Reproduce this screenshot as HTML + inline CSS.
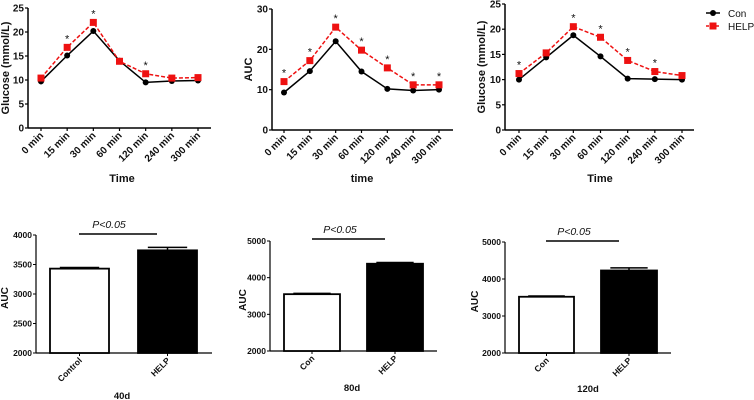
<!DOCTYPE html>
<html><head><meta charset="utf-8"><style>
html,body{margin:0;padding:0;background:#fff;width:754px;height:400px;overflow:hidden}
svg text{font-family:"Liberation Sans",Arial,sans-serif;fill:#111}
</style></head><body>
<svg id="fig" width="754" height="400" xmlns="http://www.w3.org/2000/svg"></svg>
<script>
const timeCats = ["0 min","15 min","30 min","60 min","120 min","240 min","300 min"];
const conA = [9.7,15.1,20.2,14,9.5,9.8,9.9];
const helpA = [10.4,16.8,22,13.9,11.3,10.4,10.5];
const starsA = [false,true,true,false,true,false,false];
const conB = [9.3,14.6,22,14.5,10.2,9.8,10];
const helpB = [12,17.2,25.5,19.8,15.4,11.2,11.2];
const starsB = [true,true,true,true,true,true,true];
const conC = [10,14.4,18.8,14.6,10.2,10.1,10];
const helpC = [11.2,15.3,20.5,18.4,13.8,11.6,10.8];
const starsC = [true,false,true,true,true,true,false];
const ticksA = [0,5,10,15,20,25];
const ticksB = [0,10,20,30];
const bar40Cats = ["Control","HELP"];
const bar40Vals = [3430,3740];
const bar40Errs = [20,50];
const bar40Ticks = [2000,2500,3000,3500,4000];
const bar80Cats = ["Con","HELP"];
const bar80Vals = [3550,4380];
const bar80Errs = [20,35];
const bar80Ticks = [2000,3000,4000,5000];
const bar120Cats = ["Con","HELP"];
const bar120Vals = [3520,4230];
const bar120Errs = [20,70];
const bar120Ticks = [2000,3000,4000,5000];

const NS="http://www.w3.org/2000/svg";
const svg=document.getElementById('fig');
function mk(tag,attrs,parent,txt){const e=document.createElementNS(NS,tag);for(const k in attrs)e.setAttribute(k,attrs[k]);if(txt!==undefined)e.textContent=txt;(parent||svg).appendChild(e);return e;}

function lineChart(name,ax,x0,x1,y0,yTop,ymax,ticks,cats,con,help,stars,ylabel,ylx,xlabel,xlx){
  const g=mk('g',{});
  
  
  const ys=v=>y0-(v/ymax)*(y0-yTop);
  const step=(x1-ax-26)/(cats.length-1)*1;
  const xs=i=>x0+i*step;
  const axes=mk('g',{},g);
  
  
  mk('line',{x1:ax,y1:yTop,x2:ax,y2:y0,stroke:'#000','stroke-width':1.5},axes);
  mk('line',{x1:ax,y1:y0,x2:x1,y2:y0,stroke:'#000','stroke-width':1.5},axes);
  ticks.forEach(t=>{const y=ys(t);
    mk('line',{x1:ax-3,y1:y,x2:ax,y2:y,stroke:'#000','stroke-width':1.2},axes);
    const tl=mk('text',{x:ax-4,y:y+3.5,'text-anchor':'end','font-size':10,'font-weight':'bold'},axes,t);
    
    
  });
  cats.forEach((c,i)=>{const x=xs(i);
    mk('line',{x1:x,y1:y0,x2:x,y2:y0+3,stroke:'#000','stroke-width':1.2},axes);
    const tl=mk('text',{x:0,y:0,'text-anchor':'end','font-size':10,'font-weight':'bold',transform:`translate(${x+3},${y0+8}) rotate(-45)`},axes,c);
    
    
  });
  const yl=mk('text',{x:0,y:0,'text-anchor':'middle','font-size':11,'font-weight':'bold',transform:`translate(${ylx},${(y0+yTop)/2}) rotate(-90)`},g,ylabel);
  
  
  const xl=mk('text',{x:xlx,y:182,'text-anchor':'middle','font-size':11,'font-weight':'bold'},g,xlabel);
  
  
  const pc=con.map((v,i)=>xs(i)+','+ys(v)).join(' ');
  const ph=help.map((v,i)=>xs(i)+','+ys(v)).join(' ');
  const lc=mk('polyline',{points:pc,fill:'none',stroke:'#000','stroke-width':1.5},g);
  
  
  const lh=mk('polyline',{points:ph,fill:'none',stroke:'#e11','stroke-width':1.5,'stroke-dasharray':'4,2'},g);
  
  
  con.forEach((v,i)=>{const c=mk('circle',{cx:xs(i),cy:ys(v),r:3,fill:'#000'},g);
    
    });
  help.forEach((v,i)=>{const r=mk('rect',{x:xs(i)-3.5,y:ys(v)-3.5,width:7,height:7,fill:'#e11'},g);
    
    
    if(stars[i]){const s=mk('text',{x:xs(i),y:ys(Math.max(v,con[i]))-5,'text-anchor':'middle','font-size':11},g,'*');
      
      }
  });
}
lineChart('glucose-chart-left',28,41,211,128,8,25,ticksA,timeCats,conA,helpA,starsA,'Glucose (mmol/L)',9,'Time',122);
lineChart('auc-time-chart',272,284,453,130,9,30,ticksB,timeCats,conB,helpB,starsB,'AUC',252,'time',362);
lineChart('glucose-chart-right',505,519,694,130,4,25,ticksA,timeCats,conC,helpC,starsC,'Glucose (mmol/L)',485,'Time',600);

const lg=mk('g',{});


mk('line',{x1:706,y1:13,x2:720,y2:13,stroke:'#000','stroke-width':1.5},lg);
mk('circle',{cx:713,cy:13,r:3,fill:'#000'},lg);
const t1=mk('text',{x:728,y:17,'font-size':10},lg,'Con');


mk('line',{x1:706,y1:26,x2:720,y2:26,stroke:'#e11','stroke-width':1.5,'stroke-dasharray':'3,2'},lg);
mk('rect',{x:709.5,y:22.5,width:7,height:7,fill:'#e11'},lg);
const t2=mk('text',{x:728,y:30,'font-size':10},lg,'HELP');



function barChart(name,ax,x1,y0,yTop,vmin,vmax,ticks,cats,vals,errs,bars,sig,pLabelX,sub,subx,ylx){
  const g=mk('g',{});
  
  
  const ys=v=>y0-(v-vmin)/(vmax-vmin)*(y0-yTop);
  mk('line',{x1:ax,y1:ys(ticks[ticks.length-1]),x2:ax,y2:y0,stroke:'#000','stroke-width':1.2},g);
  mk('line',{x1:ax,y1:y0,x2:x1,y2:y0,stroke:'#000','stroke-width':1.2},g);
  ticks.forEach(t=>{const y=ys(t);
    mk('line',{x1:ax-3,y1:y,x2:ax,y2:y,stroke:'#000','stroke-width':1},g);
    const tl=mk('text',{x:ax-4,y:y+3,'text-anchor':'end','font-size':8.5,'font-weight':'bold'},g,t);
    
    
  });
  vals.forEach((v,i)=>{const [bx0,bx1]=bars[i];const cx=(bx0+bx1)/2;
    const ye=ys(v+errs[i]);
    mk('line',{x1:cx,y1:ys(v),x2:cx,y2:ye,stroke:'#000','stroke-width':1.5},g);
    mk('line',{x1:cx-(bx1-bx0)/3,y1:ye,x2:cx+(bx1-bx0)/3,y2:ye,stroke:'#000','stroke-width':1.5},g);
    const r=mk('rect',{x:bx0,y:ys(v),width:bx1-bx0,height:y0-ys(v),fill:i?'#000':'#fff',stroke:'#000','stroke-width':1.8},g);
    
    
    mk('line',{x1:cx,y1:y0,x2:cx,y2:y0+3,stroke:'#000','stroke-width':1},g);
    const tl=mk('text',{x:0,y:0,'text-anchor':'end','font-size':8.5,'font-weight':'bold',transform:`translate(${cx+3},${y0+8}) rotate(-45)`},g,cats[i]);
    
    
  });
  const sl=mk('line',{x1:sig[0],y1:sig[2],x2:sig[1],y2:sig[2],stroke:'#000','stroke-width':1.5},g);
  
  
  const pt=mk('text',{x:pLabelX,y:sig[2]-6,'text-anchor':'middle','font-size':10.5,'font-style':'italic'},g,'P<0.05');
  
  
  const st=mk('text',{x:subx,y:sub[1],'text-anchor':'middle','font-size':9.5,'font-weight':'bold'},g,sub[0]);
  
  
  const yl=mk('text',{x:0,y:0,'text-anchor':'middle','font-size':10,'font-weight':'bold',transform:`translate(${ylx},${(y0+ys(ticks[ticks.length-1]))/2+4}) rotate(-90)`},g,'AUC');
  
  
}
barChart('auc-bar-40d',36,212,353,235,2000,4000,bar40Ticks,bar40Cats,bar40Vals,bar40Errs,[[50,109],[138,197]],[79,157,234],109,['40d',399],122,8);
barChart('auc-bar-80d',270,437,351,241,2000,5000,bar80Ticks,bar80Cats,bar80Vals,bar80Errs,[[284,340],[367,423]],[312,385,239],340,['80d',391],352,246);
barChart('auc-bar-120d',505,671,353,242,2000,5000,bar120Ticks,bar120Cats,bar120Vals,bar120Errs,[[519,574],[601,657]],[546,619,241],574,['120d',392],588,478);
</script>
</body></html>
